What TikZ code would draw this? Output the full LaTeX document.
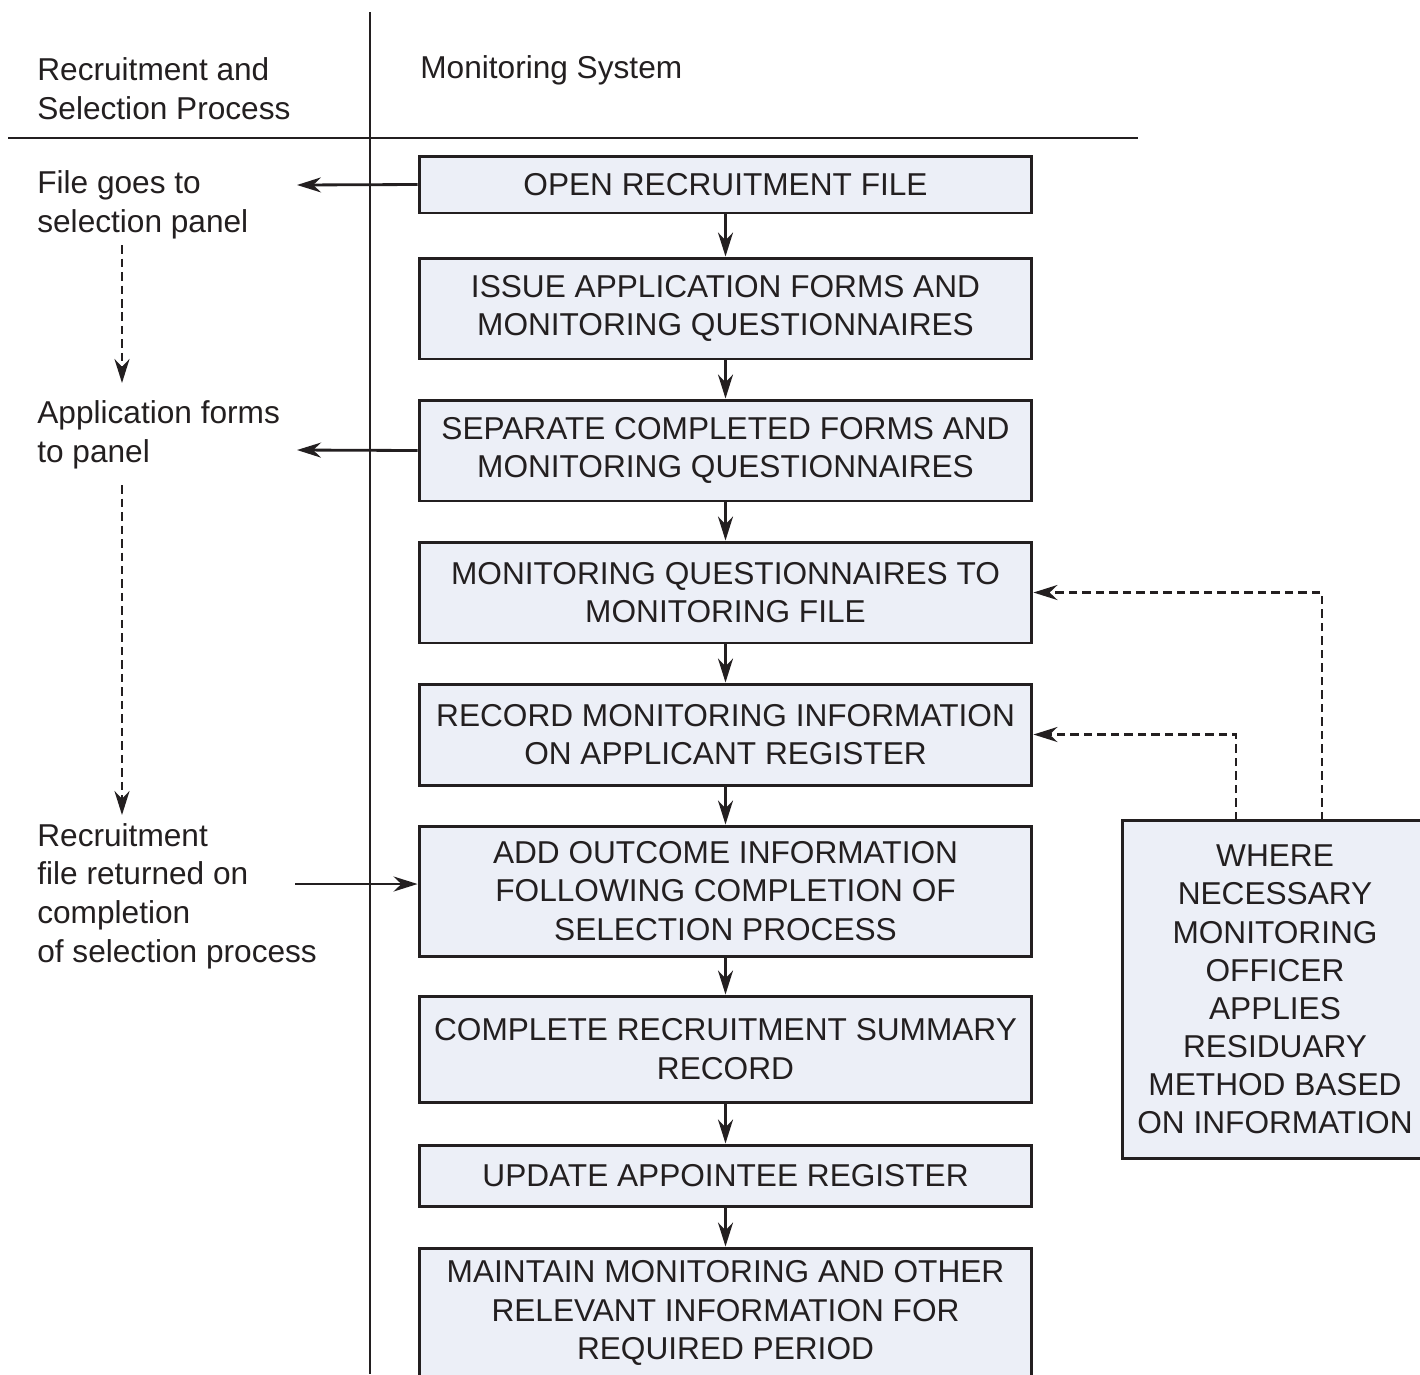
\documentclass[tikz,border=0pt]{standalone}
\usepackage{fontspec}
\setmainfont{Liberation Sans}
\usepackage{xcolor}
\usetikzlibrary{arrows.meta}
\definecolor{boxfill}{HTML}{ECEFF7}
\definecolor{ink}{HTML}{231F20}
\tikzset{
  stepbox/.style={draw=ink, fill=boxfill, line width=1.7pt, minimum width=12.26cm, align=center, inner sep=2pt},
  lanetext/.style={anchor=west, align=left, inner sep=0pt},
  flow/.style={draw=ink, line width=1.6pt, -{Stealth[length=0.48cm,width=0.3cm]}},
  hint/.style={flow, dash pattern=on 0.17cm off 0.1cm},
}

\begin{document}
\begin{tikzpicture}[x=0.02cm,y=-0.02cm,font=\fontsize{18}{22}\selectfont,color=ink]
		\useasboundingbox (0,0) rectangle (1420,1374);
		\clip (0,0) rectangle (1420,1374);
		% lanes
		\draw[line width=1.6pt] (370,12) -- (370,1374);
		\draw[line width=1.6pt] (8,138) -- (1138,138);
		\node[lanetext] (rshead) at (37,89) {Recruitment and\\Selection Process};
		\node[lanetext] (mshead) at (420,70) {Monitoring System};
		% monitoring system steps
		\node[stepbox,minimum height=1.14cm] (open) at (725.5,184.5) {OPEN RECRUITMENT FILE};
		\node[stepbox,minimum height=2.02cm] (issue) at (725.5,308.5) {ISSUE APPLICATION FORMS AND\\MONITORING QUESTIONNAIRES};
		\node[stepbox,minimum height=2.02cm] (separate) at (725.5,450.5) {SEPARATE COMPLETED FORMS AND\\MONITORING QUESTIONNAIRES};
		\node[stepbox,minimum height=2.02cm] (tofile) at (725.5,592.5) {MONITORING QUESTIONNAIRES TO\\MONITORING FILE};
		\node[stepbox,minimum height=2.02cm] (record) at (725.5,734.5) {RECORD MONITORING INFORMATION\\ON APPLICANT REGISTER};
		\node[stepbox,minimum height=2.6cm] (outcome) at (725.5,891) {ADD OUTCOME INFORMATION\\FOLLOWING COMPLETION OF\\SELECTION PROCESS};
		\node[stepbox,minimum height=2.12cm] (summary) at (725.5,1049) {COMPLETE RECRUITMENT SUMMARY\\RECORD};
		\node[stepbox,minimum height=1.22cm] (appointee) at (725.5,1175.5) {UPDATE APPOINTEE REGISTER};
		\node[stepbox,minimum height=2.6cm] (maintain) at (725.5,1313) {MAINTAIN MONITORING AND OTHER\\RELEVANT INFORMATION FOR\\REQUIRED PERIOD};
		\node[stepbox,minimum width=6.12cm,minimum height=6.78cm,font=\fontsize{18}{21.7}\selectfont] (where) at (1275,989.5) {WHERE\\NECESSARY\\MONITORING\\OFFICER\\APPLIES\\RESIDUARY\\METHOD BASED\\ON INFORMATION};
		\foreach \a/\b in {open/issue,issue/separate,separate/tofile,tofile/record,record/outcome,outcome/summary,summary/appointee,appointee/maintain}
			\draw[flow] (\a) -- (\b);
		% residuary method feedback
		\coordinate (wl) at (1236,820);
		\coordinate (wr) at (1322,820);
		\draw[hint] (wl) |- (record.east);
		\draw[hint] (wr) |- (tofile.east);
		% recruitment and selection side
		\node[lanetext] (filetxt) at (37,205) {File goes to\\selection panel};
		\node[lanetext] (apptxt) at (37,435) {Application forms\\to panel};
		\node[lanetext] (rettxt) at (37,896) {Recruitment\\file returned on\\completion\\of selection process};
		\coordinate (filein) at (297,185);
		\coordinate (appin) at (297,450);
		\coordinate (retout) at (295,884);
		\draw[flow] (open.west) -- (filein);
		\draw[flow] (separate.west) -- (appin);
		\draw[flow] (retout) -- (retout -| outcome.west);
		\coordinate (d1a) at (122,245);
		\coordinate (d1b) at (122,383);
		\coordinate (d2a) at (122,485);
		\coordinate (d2b) at (122,815);
		\draw[hint] (d1a) -- (d1b);
		\draw[hint] (d2a) -- (d2b);
	\end{tikzpicture}
\end{document}
